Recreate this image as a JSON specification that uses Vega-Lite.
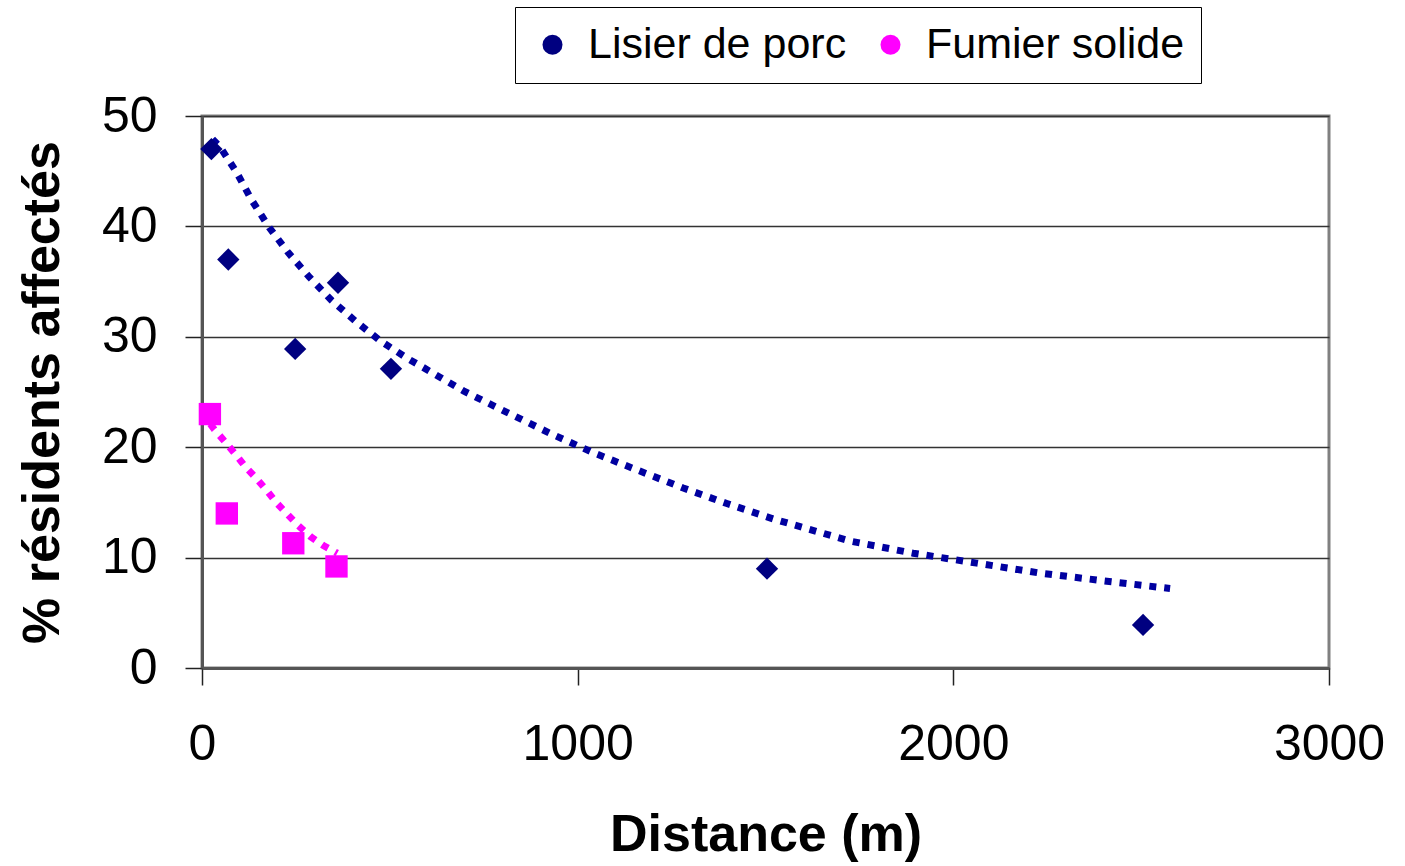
{
  "$schema": "https://vega.github.io/schema/vega-lite/v6.json",
  "width": 1127,
  "height": 552,
  "autosize": {"type": "none"},
  "padding": {"left": 202, "top": 116, "right": 76, "bottom": 198},
  "background": "white",
  "config": {
    "font": "Liberation Sans",
    "view": {"stroke": "#808080", "strokeWidth": 3},
    "axis": {
      "labelFont": "Liberation Sans",
      "titleFont": "Liberation Sans",
      "labelColor": "black",
      "titleColor": "black",
      "labelFontSize": 50,
      "titleFontSize": 52,
      "titleFontWeight": "bold",
      "tickSize": 17,
      "tickColor": "#222222",
      "tickWidth": 1.5,
      "domainColor": "#555555",
      "domainWidth": 3,
      "gridColor": "#333333",
      "gridWidth": 1.5,
      "labelFlush": false
    },
    "legend": {
      "labelFont": "Liberation Sans",
      "labelFontSize": 43,
      "labelColor": "black"
    }
  },
  "data": {
    "values": [
      {"series": "Lisier de porc", "kind": "point", "distance": 25, "pct": 47.0},
      {"series": "Lisier de porc", "kind": "point", "distance": 70, "pct": 37.0},
      {"series": "Lisier de porc", "kind": "point", "distance": 248, "pct": 28.9},
      {"series": "Lisier de porc", "kind": "point", "distance": 362, "pct": 34.9},
      {"series": "Lisier de porc", "kind": "point", "distance": 503, "pct": 27.1},
      {"series": "Lisier de porc", "kind": "point", "distance": 1504, "pct": 9.0},
      {"series": "Lisier de porc", "kind": "point", "distance": 2505, "pct": 3.9},
      {"series": "Fumier solide", "kind": "point", "distance": 21, "pct": 23.0},
      {"series": "Fumier solide", "kind": "point", "distance": 66, "pct": 14.0},
      {"series": "Fumier solide", "kind": "point", "distance": 243, "pct": 11.3},
      {"series": "Fumier solide", "kind": "point", "distance": 358, "pct": 9.2},
      {"curve": "Lisier de porc", "kind": "trend", "distance": 28, "pct": 47.9},
      {"curve": "Lisier de porc", "kind": "trend", "distance": 48, "pct": 47.2},
      {"curve": "Lisier de porc", "kind": "trend", "distance": 92, "pct": 44.9},
      {"curve": "Lisier de porc", "kind": "trend", "distance": 132, "pct": 42.4},
      {"curve": "Lisier de porc", "kind": "trend", "distance": 179, "pct": 39.9},
      {"curve": "Lisier de porc", "kind": "trend", "distance": 230, "pct": 37.6},
      {"curve": "Lisier de porc", "kind": "trend", "distance": 286, "pct": 35.4},
      {"curve": "Lisier de porc", "kind": "trend", "distance": 345, "pct": 33.3},
      {"curve": "Lisier de porc", "kind": "trend", "distance": 409, "pct": 31.4},
      {"curve": "Lisier de porc", "kind": "trend", "distance": 476, "pct": 29.6},
      {"curve": "Lisier de porc", "kind": "trend", "distance": 549, "pct": 28.0},
      {"curve": "Lisier de porc", "kind": "trend", "distance": 585, "pct": 27.3},
      {"curve": "Lisier de porc", "kind": "trend", "distance": 696, "pct": 25.1},
      {"curve": "Lisier de porc", "kind": "trend", "distance": 809, "pct": 23.2},
      {"curve": "Lisier de porc", "kind": "trend", "distance": 924, "pct": 21.3},
      {"curve": "Lisier de porc", "kind": "trend", "distance": 1042, "pct": 19.5},
      {"curve": "Lisier de porc", "kind": "trend", "distance": 1161, "pct": 17.9},
      {"curve": "Lisier de porc", "kind": "trend", "distance": 1281, "pct": 16.3},
      {"curve": "Lisier de porc", "kind": "trend", "distance": 1397, "pct": 14.9},
      {"curve": "Lisier de porc", "kind": "trend", "distance": 1521, "pct": 13.5},
      {"curve": "Lisier de porc", "kind": "trend", "distance": 1725, "pct": 11.5},
      {"curve": "Lisier de porc", "kind": "trend", "distance": 1893, "pct": 10.4},
      {"curve": "Lisier de porc", "kind": "trend", "distance": 2062, "pct": 9.5},
      {"curve": "Lisier de porc", "kind": "trend", "distance": 2231, "pct": 8.6},
      {"curve": "Lisier de porc", "kind": "trend", "distance": 2399, "pct": 7.9},
      {"curve": "Lisier de porc", "kind": "trend", "distance": 2577, "pct": 7.2},
      {"curve": "Fumier solide", "kind": "trend", "distance": 22, "pct": 22.1},
      {"curve": "Fumier solide", "kind": "trend", "distance": 33, "pct": 21.6},
      {"curve": "Fumier solide", "kind": "trend", "distance": 61, "pct": 20.5},
      {"curve": "Fumier solide", "kind": "trend", "distance": 88, "pct": 19.4},
      {"curve": "Fumier solide", "kind": "trend", "distance": 116, "pct": 18.2},
      {"curve": "Fumier solide", "kind": "trend", "distance": 144, "pct": 17.2},
      {"curve": "Fumier solide", "kind": "trend", "distance": 172, "pct": 16.1},
      {"curve": "Fumier solide", "kind": "trend", "distance": 200, "pct": 14.9},
      {"curve": "Fumier solide", "kind": "trend", "distance": 228, "pct": 13.9},
      {"curve": "Fumier solide", "kind": "trend", "distance": 256, "pct": 12.9},
      {"curve": "Fumier solide", "kind": "trend", "distance": 289, "pct": 11.9},
      {"curve": "Fumier solide", "kind": "trend", "distance": 323, "pct": 11.1},
      {"curve": "Fumier solide", "kind": "trend", "distance": 360, "pct": 10.4}
    ]
  },
  "layer": [
    {
      "transform": [{"filter": "datum.kind === 'trend'"}],
      "mark": {"type": "line", "strokeWidth": 7, "strokeDash": [7, 8], "strokeCap": "butt"},
      "encoding": {
        "x": {
          "field": "distance", "type": "quantitative",
          "scale": {"domain": [0, 3000], "nice": false, "zero": false},
          "axis": {
            "values": [0, 1000, 2000, 3000],
            "format": "d",
            "grid": false,
            "labelPadding": 34,
            "title": "Distance (m)",
            "titlePadding": 40
          }
        },
        "y": {
          "field": "pct", "type": "quantitative",
          "scale": {"domain": [0, 50], "nice": false},
          "axis": {
            "values": [0, 10, 20, 30, 40, 50],
            "grid": true,
            "labelPadding": 28,
            "title": "% résidents affectés",
            "titlePadding": 32
          }
        },
        "color": {
          "field": "curve", "type": "nominal",
          "scale": {"domain": ["Lisier de porc", "Fumier solide"], "range": ["#0000A0", "#FF00FF"]},
          "legend": null
        },
        "detail": {"field": "curve"}
      }
    },
    {
      "transform": [{"filter": "datum.kind === 'point'"}],
      "mark": {"type": "point", "filled": true, "opacity": 1, "size": 500},
      "encoding": {
        "x": {"field": "distance", "type": "quantitative"},
        "y": {"field": "pct", "type": "quantitative"},
        "color": {
          "field": "series", "type": "nominal",
          "scale": {"domain": ["Lisier de porc", "Fumier solide"], "range": ["#000080", "#FF00FF"]},
          "legend": {
            "title": null,
            "orient": "none",
            "legendX": 313,
            "legendY": -109,
            "direction": "horizontal",
            "strokeColor": "black",
            "fillColor": "white",
            "padding": 16,
            "symbolSize": 400,
            "labelOffset": 14,
            "columnPadding": 22,
            "labelLimit": 500,
            "encode": {
              "symbols": {
                "update": {
                  "shape": {"signal": "datum.value === 'Lisier de porc' ? 'diamond' : 'square'"}
                }
              }
            }
          }
        },
        "shape": {
          "field": "series", "type": "nominal",
          "scale": {"domain": ["Lisier de porc", "Fumier solide"], "range": ["diamond", "square"]},
          "legend": null
        }
      }
    }
  ],
  "resolve": {"scale": {"color": "independent"}}
}
